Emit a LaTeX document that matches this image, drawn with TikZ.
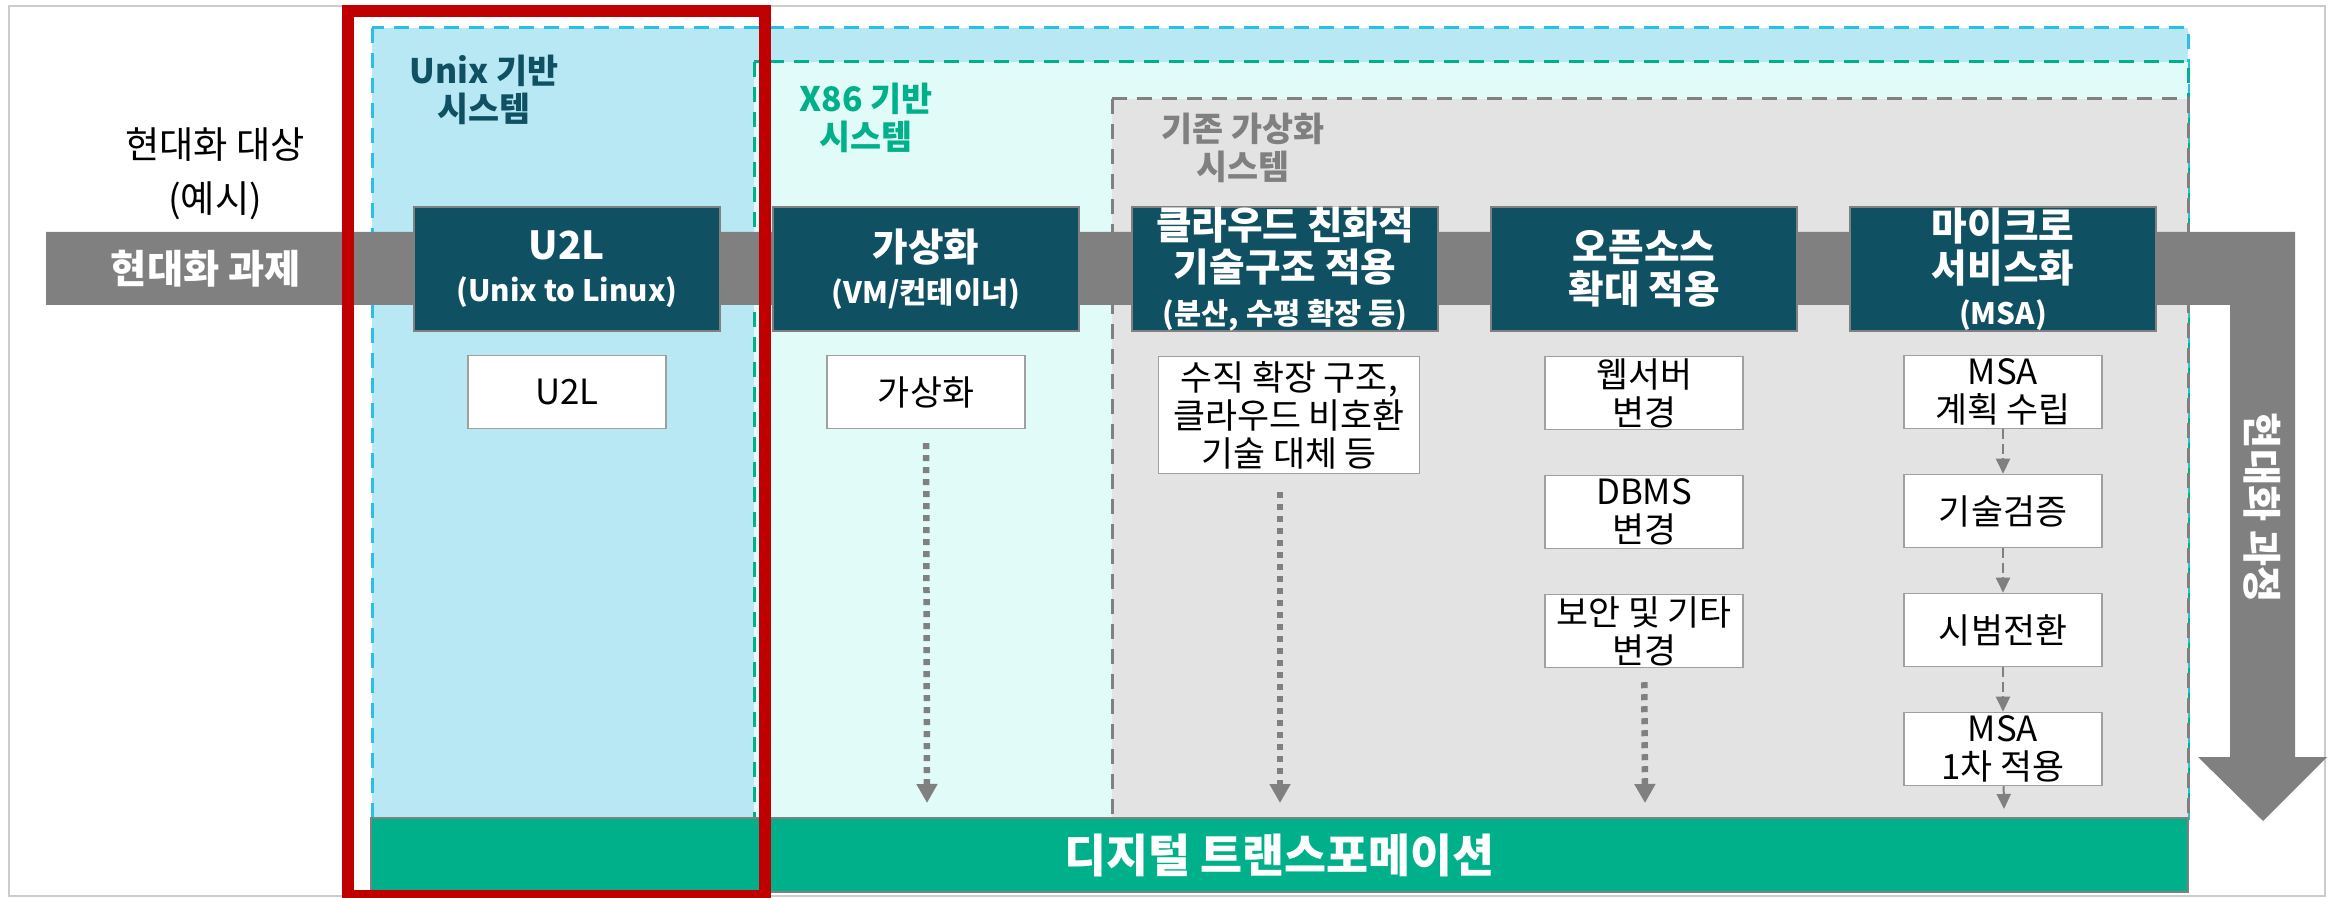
\documentclass[tikz,border=0pt]{standalone}
\usepackage{fontspec}
\setmainfont{Noto Sans CJK KR}
\usepackage{tikz}
\usetikzlibrary{arrows.meta,positioning}
\definecolor{darkteal}{HTML}{0F5163}
\definecolor{skyfill}{HTML}{B9E8F5}
\definecolor{skyline}{HTML}{2BBFE6}
\definecolor{mintfill}{HTML}{E1FCF8}
\definecolor{dxgreen}{HTML}{00B08A}
\definecolor{vmfill}{HTML}{E3E3E3}
\definecolor{bandgray}{HTML}{808080}
\definecolor{framegray}{HTML}{CCCCCC}
\definecolor{boxedge}{HTML}{A0A0A0}
\definecolor{redframe}{HTML}{C00000}
\newcommand{\subtxt}[1]{{\fontsize{8.4}{10}\selectfont #1}}
\tikzstyle{block} = [rectangle, draw=bandgray, line width=0.2mm, fill=darkteal, text=white,
    font=\bfseries\fontsize{11}{12}\selectfont, align=center,
    minimum width=30.6mm, minimum height=12.4mm, inner sep=0pt]
\tikzstyle{item} = [rectangle, draw=boxedge, line width=0.15mm, fill=white,
    font=\fontsize{9.9}{10.8}\selectfont, align=center,
    minimum width=19.8mm, minimum height=7.3mm, inner sep=0pt, node distance=11.9mm]
\tikzstyle{zone} = [dash pattern=on 1.5mm off 1mm, line width=0.3mm]
\tikzstyle{zonelabel} = [font=\bfseries\fontsize{9.6}{10.8}\selectfont, align=center]
\tikzstyle{line} = [draw, bandgray, line width=0.2mm, dash pattern=on 1mm off 0.45mm,
    -{Triangle[width=1.4mm,length=1.5mm]}]
\tikzstyle{dotline} = [draw, bandgray, line width=0.65mm, dash pattern=on 0.6mm off 0.6mm,
    -{Triangle[width=2mm,length=1.9mm]}]

\begin{document}
\begin{tikzpicture}[x=0.1mm,y=-0.1mm,node distance=35.9mm]
    \useasboundingbox (0,0) rectangle (2340,898);
    % Frame and zones
    \draw[framegray, line width=0.2mm] (9,6) rectangle (2325,896);
    \filldraw[zone, fill=skyfill, draw=skyline] (372,28) rectangle (2188,818);
    \filldraw[zone, fill=mintfill, draw=dxgreen] (754,62) rectangle (2188,818);
    \filldraw[zone, fill=vmfill, draw=bandgray] (1112,99) rectangle (2188,818);

    % Task band, bending down into the process arrow
    \fill[bandgray] (46,232) -- (2295,232) -- (2295,757) -- (2327,757) -- (2263,821)
        -- (2198,757) -- (2230,757) -- (2230,305) -- (46,305) -- cycle;
    \node[font=\bfseries\fontsize{11.2}{12}\selectfont, text=white] (task) at (206,269) {현대화 과제};
    \node[font=\bfseries\fontsize{11.2}{12}\selectfont, text=white, rotate=-90] (process) at (2262,508) {현대화 과정};
    \node[font=\fontsize{10.6}{15.4}\selectfont, align=center] (target) at (215,174) {현대화 대상\\(예시)};

    % Zone labels
    \node[zonelabel, text=darkteal] (unixlbl) at (484,90) {Unix 기반\\시스템};
    \node[zonelabel, text=dxgreen] (x86lbl) at (866,118) {X86 기반\\시스템};
    \node[zonelabel, text=bandgray] (vmlbl) at (1243,148) {기존 가상화\\시스템};

    % Place nodes
    \node[block] (u2l) at (567,269) {U2L\\\subtxt{(Unix to Linux)}};
    \node[block, right of=u2l] (virt) {가상화\\\subtxt{(VM/컨테이너)}};
    \node[block, right of=virt] (cloud) {클라우드 친화적\\기술구조 적용\\\subtxt{(분산, 수평 확장 등)}};
    \node[block, right of=cloud] (oss) {오픈소스\\확대 적용};
    \node[block, right of=oss] (msa) {마이크로\\서비스화\\\subtxt{(MSA)}};

    \node[item, node distance=12.3mm, below of=u2l] (u2lbox) {U2L};
    \node[item, node distance=12.3mm, below of=virt] (virtbox) {가상화};
    \node[item, node distance=14.6mm, below of=cloud, xshift=0.4mm,
        minimum width=26.1mm, minimum height=11.7mm] (vscale) {수직 확장 구조,\\클라우드 비호환\\기술 대체 등};
    \node[item, node distance=12.4mm, below of=oss] (web) {웹서버\\변경};
    \node[item, below of=web] (dbms) {DBMS\\변경};
    \node[item, below of=dbms] (sec) {보안 및 기타\\변경};
    \node[item, node distance=12.3mm, below of=msa] (plan) {MSA\\계획 수립};
    \node[item, below of=plan] (poc) {기술검증};
    \node[item, below of=poc] (pilot) {시범전환};
    \node[item, below of=pilot] (first) {MSA\\1차 적용};

    \node[draw=bandgray, line width=0.2mm, fill=dxgreen, text=white, font=\bfseries\fontsize{13}{14}\selectfont,
        minimum width=181.7mm, minimum height=7.4mm, inner sep=0pt] (dx) at (1279.5,855) {디지털 트랜스포메이션};

    % Draw edges
    \coordinate (virtend) at (927,803);
    \coordinate (vscaleend) at (1280,803);
    \coordinate (secend) at (1645,803);
    \coordinate (firstend) at (2004,809);
    \path [dotline, shorten <=1.4mm] (virtbox) -- (virtend);
    \path [dotline, shorten <=1.8mm] (vscale.south -| vscaleend) -- (vscaleend);
    \path [dotline, shorten <=1.4mm] (sec) -- (secend);

    \path [line] (plan) -- (poc);
    \path [line] (poc) -- (pilot);
    \path [line] (pilot) -- (first);
    \path [line] (first) -- (firstend);

    % Highlight frame
    \draw[redframe, line width=1.2mm] (348,11) rectangle (765,896);
\end{tikzpicture}
\end{document}
